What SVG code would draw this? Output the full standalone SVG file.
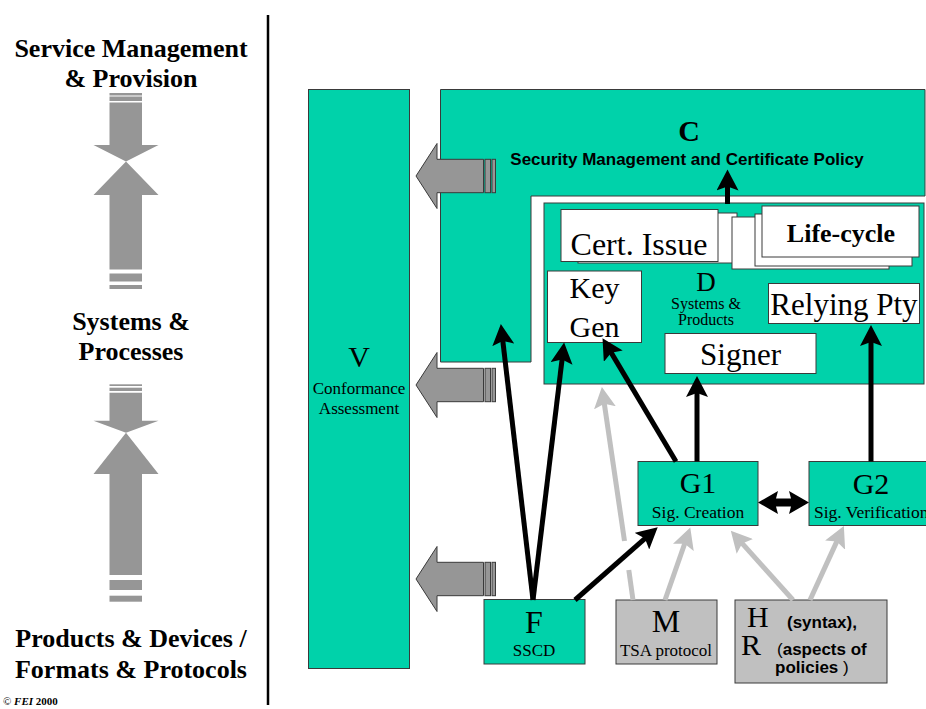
<svg xmlns="http://www.w3.org/2000/svg" xmlns:xlink="http://www.w3.org/1999/xlink" width="926" height="709" viewBox="0 0 926 709">
<style>
.teal{fill:#00D2AA;stroke:#3a3a3a;stroke-width:1}
.wbox{fill:#ffffff;stroke:#3a3a3a;stroke-width:1}
.gbox{fill:#C0C0C0;stroke:#3a3a3a;stroke-width:1}
.blk{fill:#969696;stroke:#3a3a3a;stroke-width:1}
.lcol{fill:#969696;stroke:none}
.serif{font-family:"Liberation Serif","Times New Roman",serif;fill:#000}
.sans{font-family:"Liberation Sans",Arial,sans-serif;fill:#000}
.b{font-weight:bold}
.mid{text-anchor:middle}
.conn{stroke:#000;stroke-width:5;fill:none}
.gconn{stroke:#C0C0C0;stroke-width:5;fill:none}
</style>
<defs>
<marker id="ah" viewBox="0 0 22 22" refX="5" refY="11" markerWidth="22" markerHeight="22" markerUnits="userSpaceOnUse" orient="auto">
<path d="M0,0 L21,11 L0,22 L4,11 z" fill="#000"/>
</marker>
<marker id="gah" viewBox="0 0 22 22" refX="5" refY="11" markerWidth="22" markerHeight="22" markerUnits="userSpaceOnUse" orient="auto">
<path d="M0,0 L21,11 L0,22 L4,11 z" fill="#C0C0C0"/>
</marker>
<g id="blockArrow">
<polygon class="blk" points="416,0 437,-32.5 437,-16.7 483.5,-16.7 483.5,16.7 437,16.7 437,32.5"/>
<rect class="blk" x="485" y="-16.7" width="5.5" height="33.4"/>
<rect class="blk" x="492" y="-16.7" width="3.5" height="33.4"/>
</g>
</defs>

<!-- left column -->
<g id="left-column">
<text class="serif b mid" x="131" y="57" font-size="26">Service Management</text>
<text class="serif b mid" x="131" y="87" font-size="26">&amp; Provision</text>
<rect class="lcol" x="109.5" y="93" width="32.5" height="2.5"/>
<rect class="lcol" x="109.5" y="96.5" width="32.5" height="4.5"/>
<polygon class="lcol" points="109.5,102.5 142,102.5 142,145 158.5,145 126,161.5 93.5,145 109.5,145"/>
<polygon class="lcol" points="126,161.5 158.5,195 142,195 142,269.5 109.5,269.5 109.5,195 93.5,195"/>
<rect class="lcol" x="109.5" y="273.5" width="32.5" height="8"/>
<rect class="lcol" x="109.5" y="285" width="32.5" height="4"/>
<text class="serif b mid" x="131" y="330" font-size="26">Systems &amp;</text>
<text class="serif b mid" x="131" y="360" font-size="26">Processes</text>
<rect class="lcol" x="109.5" y="384.3" width="32.5" height="1.7"/>
<rect class="lcol" x="109.5" y="387.7" width="32.5" height="3.3"/>
<polygon class="lcol" points="109.5,392.7 142,392.7 142,420.7 158.5,420.7 126,432.7 93.5,420.7 109.5,420.7"/>
<polygon class="lcol" points="126,432.7 158.5,474 142,474 142,575 109.5,575 109.5,474 93.5,474"/>
<rect class="lcol" x="109.5" y="580" width="32.5" height="10"/>
<rect class="lcol" x="109.5" y="595.7" width="32.5" height="6"/>
<text class="serif b mid" x="131" y="647" font-size="26">Products &amp; Devices /</text>
<text class="serif b mid" x="131" y="678" font-size="26">Formats &amp; Protocols</text>
<text class="serif" x="3" y="705" font-size="11">©  <tspan font-weight="bold" font-style="italic">FEI</tspan><tspan font-weight="bold"> 2000</tspan></text>
<line x1="268" y1="15" x2="268" y2="705" stroke="#000" stroke-width="2.5"/>
</g>

<g id="node-V">
<rect class="teal" x="308.5" y="89.5" width="101" height="579"/>
<text class="serif mid" x="359" y="367" font-size="30">V</text>
<text class="serif mid" x="359" y="394" font-size="17">Conformance</text>
<text class="serif mid" x="359" y="414" font-size="17">Assessment</text>
</g>

<g id="node-C">
<polygon class="teal" points="440.5,89.5 925,89.5 925,196 531,196 531,362 440.5,362"/>
<text class="serif b mid" x="689" y="141" font-size="30">C</text>
<text class="sans b mid" x="687" y="165" font-size="17">Security Management and Certificate Policy</text>
</g>

<g id="node-D">
<rect class="teal" x="544" y="203" width="380" height="181"/>
<text class="serif mid" x="706" y="291" font-size="27">D</text>
<text class="serif mid" x="706" y="309" font-size="16">Systems &amp;</text>
<text class="serif mid" x="706" y="325" font-size="16">Products</text>
</g>

<g id="node-cert-issue">
<rect class="wbox" x="578" y="213" width="159" height="50"/>
<rect class="wbox" x="561" y="209.5" width="157" height="52"/>
<text class="serif mid" x="639" y="255" font-size="32">Cert. Issue</text>
</g>

<g id="node-life-cycle">
<rect class="wbox" x="732" y="217" width="157" height="52"/>
<rect class="wbox" x="755" y="214" width="157" height="52"/>
<rect class="wbox" x="762" y="206" width="157" height="51"/>
<text class="serif b mid" x="841" y="242" font-size="26">Life-cycle</text>
</g>

<g id="node-key-gen">
<rect class="wbox" x="547.5" y="271" width="94" height="71.5"/>
<text class="serif mid" x="594.5" y="298" font-size="30">Key</text>
<text class="serif mid" x="594.5" y="337" font-size="30">Gen</text>
</g>

<g id="node-relying-pty">
<rect class="wbox" x="768.5" y="283.5" width="151" height="40"/>
<text class="serif mid" x="844" y="315" font-size="31">Relying Pty</text>
</g>

<g id="node-signer">
<rect class="wbox" x="665" y="333.5" width="151" height="40"/>
<text class="serif mid" x="740.5" y="365" font-size="31">Signer</text>
</g>

<g id="node-G1">
<rect class="teal" x="638" y="461.5" width="120" height="64"/>
<text class="serif mid" x="698" y="493" font-size="30">G1</text>
<text class="serif mid" x="698" y="518" font-size="17.5">Sig. Creation</text>
</g>

<g id="node-G2">
<rect class="teal" x="809" y="461.5" width="130" height="64"/>
<text class="serif mid" x="871" y="494" font-size="30">G2</text>
<text class="serif" x="814" y="518" font-size="17.5">Sig. Verification</text>
</g>

<g id="node-F">
<rect class="teal" x="484" y="599.5" width="101" height="64.5"/>
<text class="serif mid" x="534" y="633" font-size="32">F</text>
<text class="serif mid" x="534" y="656" font-size="17">SSCD</text>
</g>

<g id="node-M">
<rect class="gbox" x="616" y="600" width="101" height="64"/>
<text class="serif mid" x="666" y="632" font-size="32">M</text>
<text class="serif mid" x="666" y="656" font-size="17">TSA protocol</text>
</g>

<g id="node-HR">
<rect class="gbox" x="735" y="600" width="152" height="83"/>
<text class="serif" x="747" y="627" font-size="30">H</text>
<text class="sans b" x="787" y="628" font-size="17">(syntax),</text>
<text class="serif" x="741" y="655" font-size="30">R</text>
<text class="sans" x="777" y="655" font-size="17">(<tspan font-weight="bold">aspects of</tspan></text>
<text class="sans" x="775" y="673" font-size="17"><tspan font-weight="bold">policies</tspan> )</text>
</g>

<g id="block-arrows">
<use xlink:href="#blockArrow" y="176"/>
<use xlink:href="#blockArrow" y="385"/>
<use xlink:href="#blockArrow" y="579"/>
</g>

<g id="connectors">
<line class="gconn" x1="633" y1="600" x2="628.8" y2="570"/>
<line class="gconn" x1="624.5" y1="541" x2="604.2" y2="402.8" marker-end="url(#gah)"/>
<line class="gconn" x1="665" y1="600" x2="685" y2="542.7" marker-end="url(#gah)"/>
<line class="gconn" x1="793" y1="600" x2="741.5" y2="542.7" marker-end="url(#gah)"/>
<line class="gconn" x1="810" y1="600" x2="837.2" y2="540.6" marker-end="url(#gah)"/>
<line class="conn" x1="727.5" y1="204" x2="727.5" y2="185.5" marker-end="url(#ah)"/>
<line class="conn" x1="533" y1="600" x2="502.7" y2="339.9" marker-end="url(#ah)"/>
<line class="conn" x1="533" y1="600" x2="562.2" y2="358.4" marker-end="url(#ah)"/>
<line class="conn" x1="676" y1="461.5" x2="610.7" y2="351.9" marker-end="url(#ah)"/>
<line class="conn" x1="697" y1="461.5" x2="697" y2="392" marker-end="url(#ah)"/>
<line class="conn" x1="871" y1="461.5" x2="871" y2="341" marker-end="url(#ah)"/>
<line class="conn" x1="575" y1="600" x2="645.7" y2="537.9" marker-end="url(#ah)"/>
<polygon fill="#000" points="758,502.5 778,491 776,498.5 791,498.5 789,491 809,502.5 789,514 791,506.5 776,506.5 778,514"/>
</g>
</svg>
